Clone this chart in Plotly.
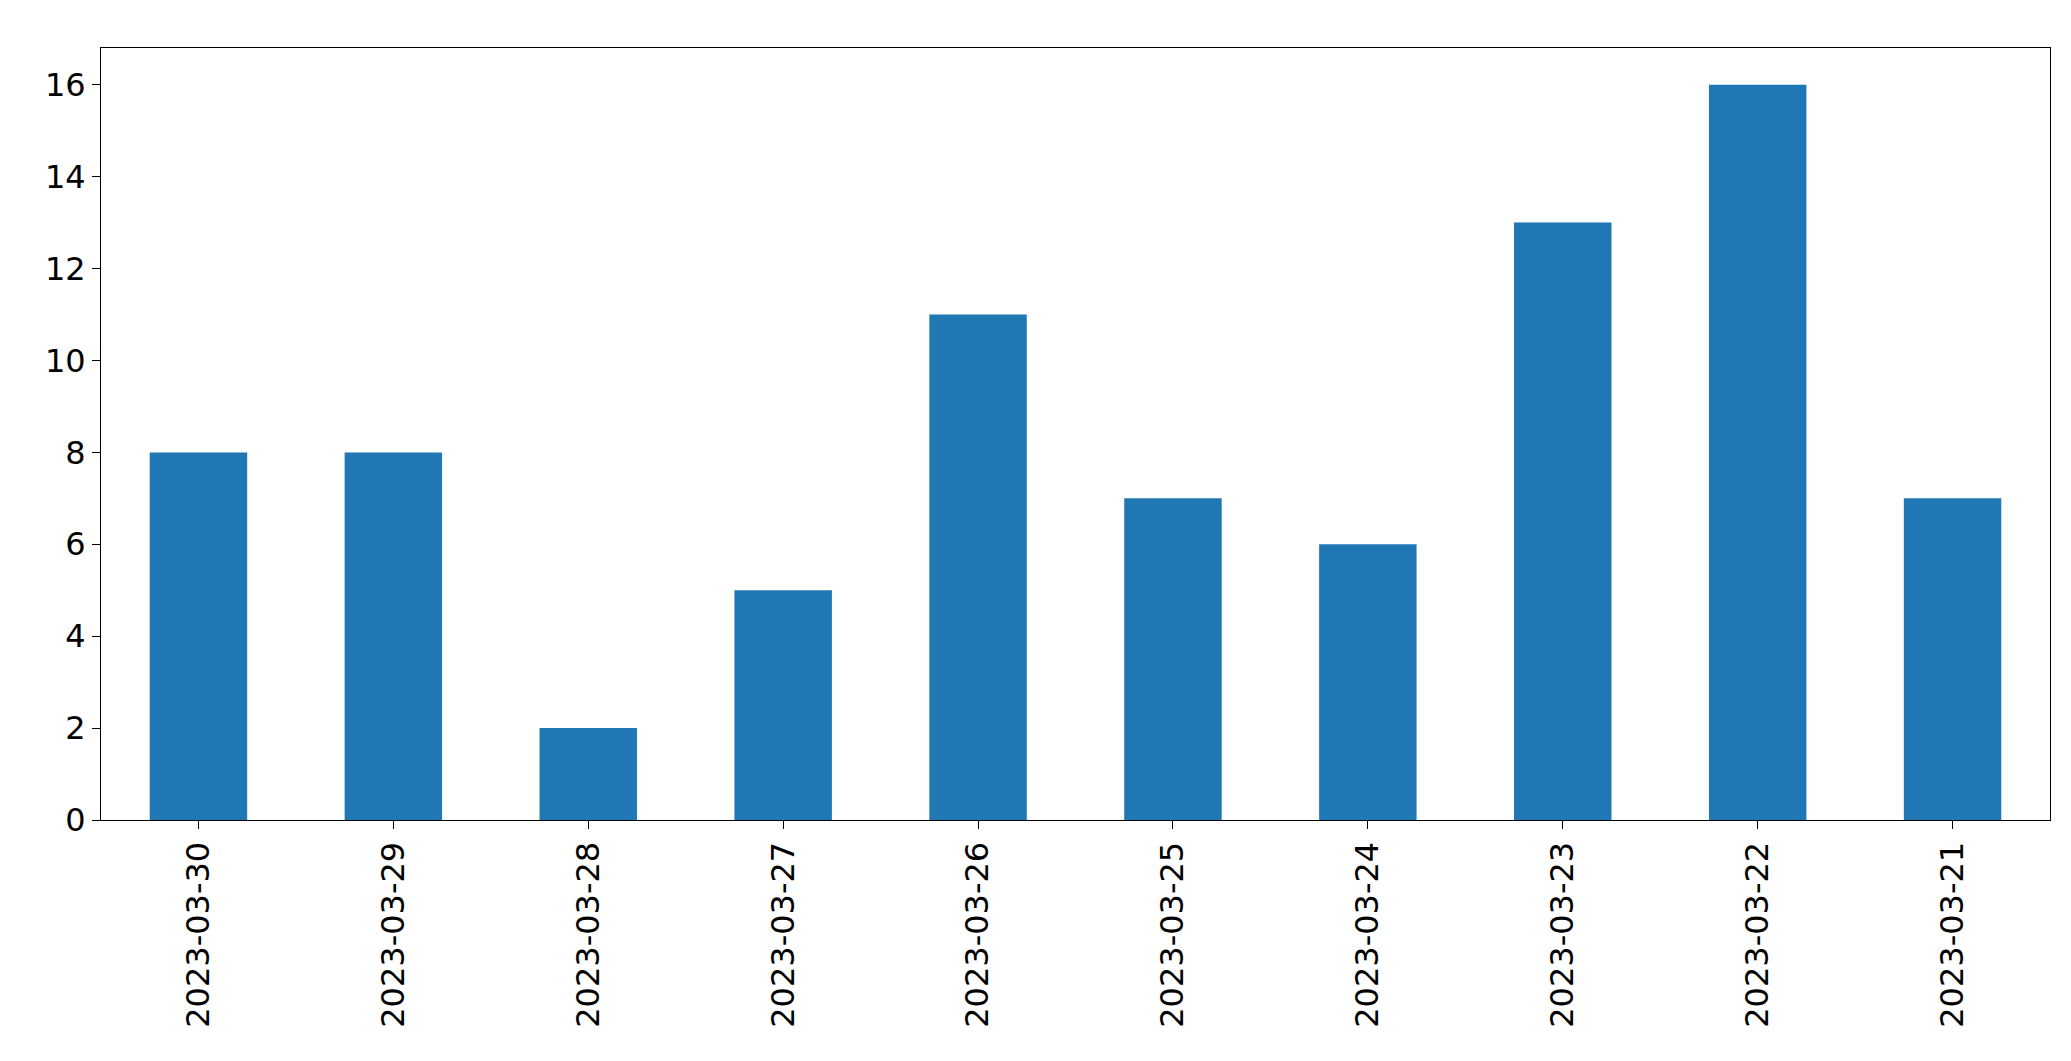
import plotly.graph_objs as go

dates = ["2023-03-30", "2023-03-29", "2023-03-28", "2023-03-27", "2023-03-26",
         "2023-03-25", "2023-03-24", "2023-03-23", "2023-03-22", "2023-03-21"]
counts = [8, 8, 2, 5, 11, 7, 6, 13, 16, 7]
y_ticks = [0, 2, 4, 6, 8, 10, 12, 14, 16]

fig = go.Figure()
fig.add_trace(go.Bar(x=dates, y=counts, width=0.5, marker_color="#1f77b4",
                     marker_line_width=0))

fig.update_layout(
    width=2071, height=1061,
    margin=dict(l=93, r=29, t=40, b=249),
    plot_bgcolor="white", paper_bgcolor="white",
    font=dict(family="DejaVu Sans", size=32, color="black"),
    showlegend=False,
)
fig.update_xaxes(type="category", range=[-0.5, 9.5], tickangle=-90,
                 showline=True, linecolor="black", mirror=True,
                 ticks="outside", ticklen=8, tickcolor="black", showgrid=False)
fig.update_yaxes(range=[0, 16.8], tickvals=y_ticks,
                 showline=True, linecolor="black", mirror=True,
                 ticks="outside", ticklen=8, tickcolor="black",
                 showgrid=False, zeroline=False)

fig.write_html("out.html")
